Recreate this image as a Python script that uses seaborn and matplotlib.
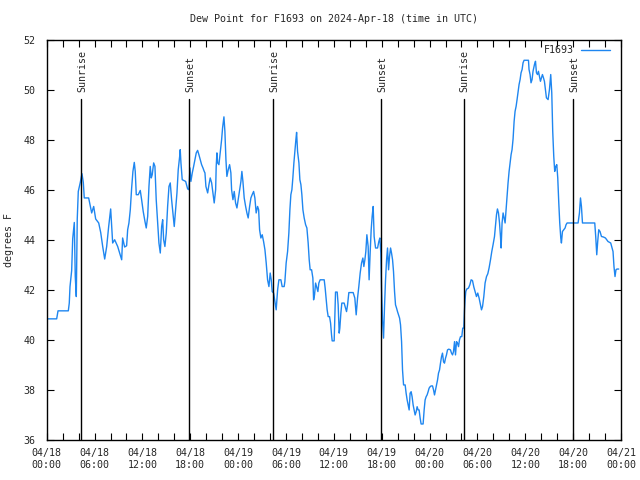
import matplotlib
matplotlib.use("Agg")
import matplotlib.pyplot as plt
import seaborn as sns
import pandas as pd

# hours since 2024-04-18 00:00 UTC
hours = [
    0.00, 1.25, 1.42, 2.71, 2.83, 2.92, 3.13, 3.26, 3.46, 3.58, 3.71, 3.83, 3.96, 4.21, 4.42, 4.59, 4.71, 5.26,
    5.51, 5.64, 5.89, 6.14, 6.52, 6.77, 7.02, 7.27, 7.52, 7.77, 8.02, 8.27, 8.52, 8.90, 9.15, 9.40, 9.52, 9.77, 10.02,
    10.15, 10.31, 10.48, 10.65, 10.81, 10.98, 11.10, 11.23, 11.48, 11.73, 11.90, 12.10, 12.32, 12.48, 12.66, 12.82,
    12.98, 13.11, 13.23, 13.41, 13.57, 13.73, 13.91, 14.07, 14.24, 14.41, 14.54, 14.66, 14.82, 14.99, 15.16, 15.33,
    15.49, 15.66, 15.83, 15.99, 16.16, 16.33, 16.49, 16.67, 16.74, 16.83, 16.99, 17.42, 17.67, 17.83, 17.96, 18.08,
    18.25, 18.42, 18.58, 18.75, 18.92, 19.08, 19.25, 19.42, 19.59, 19.75,
    19.84, 19.96, 20.18, 20.34, 20.50, 20.68, 20.84, 21.00, 21.18, 21.25, 21.34, 21.43, 21.59, 21.75, 21.93, 22.05,
    22.22, 22.34, 22.47, 22.59, 22.76, 22.93, 23.09, 23.18, 23.35, 23.51, 23.68, 23.85, 24.01, 24.18, 24.35, 24.47,
    24.60, 24.76, 24.94, 25.10, 25.26, 25.44, 25.60, 25.76, 25.94, 26.10, 26.26, 26.44, 26.57, 26.69, 26.85, 27.02,
    27.19, 27.36, 27.52, 27.69, 27.86, 28.02, 28.15, 28.27, 28.45, 28.61, 28.77, 28.95, 29.11, 29.36, 29.52, 29.77,
    29.86, 30.02, 30.20, 30.36, 30.49, 30.61, 30.74, 30.86, 30.99, 31.11, 31.24, 31.33, 31.45, 31.62, 31.74, 31.87,
    31.99, 32.12, 32.28, 32.46, 32.62, 32.78, 32.91, 33.03, 33.21, 33.37, 33.46, 33.58, 33.71, 33.83, 34.00, 34.12,
    34.28, 34.79, 34.91, 35.04, 35.16, 35.29, 35.46, 35.59, 35.71, 35.79, 36.04, 36.13, 36.21, 36.42, 36.54, 36.67,
    36.75, 36.88, 37.00, 37.29, 37.47, 37.59, 37.72, 37.88, 38.42, 38.63, 38.80, 38.97, 39.13, 39.30, 39.47, 39.64,
    39.76, 39.89, 40.01, 40.14, 40.30, 40.42, 40.55, 40.68, 40.80, 40.93, 41.05, 41.23, 41.48, 41.64, 41.77, 41.89,
    41.98, 42.10, 42.23, 42.36, 42.48, 42.61, 42.73, 42.86, 42.98, 43.11, 43.23, 43.36, 43.48, 43.61, 43.73, 43.86,
    43.98, 44.11, 44.24, 44.36, 44.49, 44.61, 44.74, 44.94, 45.06, 45.19, 45.31, 45.44, 45.56, 45.69, 45.81, 45.94,
    46.06, 46.19, 46.32, 46.44, 46.57, 46.69, 46.82, 46.94, 47.19, 47.32, 47.44, 47.57, 47.69, 47.82, 47.94, 48.07,
    48.20, 48.37, 48.50, 48.62, 48.75, 48.87, 49.00, 49.12, 49.25, 49.37, 49.50, 49.62, 49.75, 49.87, 50.00, 50.12,
    50.25, 50.41, 50.62, 50.75, 50.88, 51.00, 51.13, 51.25, 51.38, 51.50, 51.63, 51.75, 51.88, 52.04, 52.16, 52.29,
    52.38, 52.45, 52.54, 52.66,
    52.88, 53.05, 53.21, 53.38, 53.55, 53.71, 53.88, 54.04, 54.21, 54.38, 54.51, 54.64, 54.80, 54.96, 55.14, 55.30,
    55.46, 55.64, 55.80, 55.96, 56.14, 56.26, 56.39, 56.51, 56.64, 56.77, 56.89, 56.97, 57.09, 57.22, 57.34, 57.47,
    57.59, 57.72, 57.84, 57.97, 58.09, 58.22, 58.34, 58.47, 58.60, 58.72, 58.85, 58.97, 59.10, 59.22, 59.35, 59.47,
    59.60, 59.72, 59.85, 60.40, 60.47, 60.60, 60.72, 60.85, 60.97, 61.15, 61.28, 61.40, 61.53, 61.65, 61.78, 61.90,
    62.03, 62.15, 62.28, 62.40,
    62.65, 62.86, 63.03, 63.19, 63.32, 63.44, 63.57, 63.69, 63.82, 63.95, 64.07, 64.20, 64.32, 64.45, 64.53, 64.66,
    64.82, 64.99, 65.11, 65.24, 66.62, 66.79, 66.92, 67.04, 67.17, 68.71, 68.83, 68.96, 69.08, 69.21, 69.37, 69.55,
    69.80, 70.05, 70.21, 70.37, 70.71, 71.00, 71.12, 71.25, 71.37, 71.50, 71.71,
]

dewpoint = [
    40.84, 40.84, 41.16, 41.16, 41.47, 42.12, 42.77, 44.04, 44.69, 42.53, 41.73, 44.83, 45.93, 46.29, 46.64, 46.29, 45.67, 45.67,
    45.27, 45.07, 45.33, 44.83, 44.67, 44.29, 43.73, 43.23, 43.73, 44.53, 45.23, 43.87, 44.00, 43.73, 43.47, 43.20, 44.07, 43.71, 43.76,
    44.40, 44.67, 45.20, 46.07, 46.73, 47.09, 46.73, 45.80, 45.80, 45.97, 45.60, 45.13, 44.73, 44.47, 44.93, 46.13,
    46.93, 46.47, 46.60, 47.07, 46.93, 45.60, 44.67, 43.87, 43.47, 44.53, 44.80, 44.00, 43.73, 44.27, 45.33, 46.13,
    46.27, 45.60, 45.07, 44.53, 45.20, 45.87, 46.80, 47.33, 47.60, 47.07, 46.40, 46.33, 46.03, 46.00, 46.87, 46.33,
    46.67, 46.93, 47.20, 47.47, 47.57, 47.40, 47.20, 47.00, 46.87, 46.73,
    46.67, 46.13, 45.87, 46.20, 46.47, 46.27, 45.87, 45.47, 46.00, 46.93, 47.47, 47.07, 47.00, 47.47, 48.00, 48.47,
    48.91, 48.33, 47.20, 46.53, 46.80, 47.00, 46.67, 46.00, 45.60, 45.93, 45.47, 45.27, 45.60, 45.93, 46.33, 46.73,
    46.33, 45.67, 45.33, 45.07, 44.87, 45.33, 45.67, 45.80, 45.93, 45.67, 45.07, 45.33, 45.20, 44.40, 44.07, 44.20,
    43.93, 43.60, 43.07, 42.40, 42.13, 42.67, 42.40, 41.93, 41.87, 41.53, 41.20, 42.00, 42.40, 42.40, 42.13, 42.13,
    42.33, 43.07, 43.53, 44.27, 45.20, 45.80, 46.00, 46.47, 47.07, 47.53, 48.00, 48.29, 47.53, 47.07, 46.40, 46.20,
    45.80, 45.20, 44.87, 44.60, 44.47, 43.87, 43.20, 42.80, 42.80, 42.47, 41.60, 41.80, 42.27, 42.13, 41.93, 42.27,
    42.40, 42.40, 42.07, 41.60, 41.20, 40.93, 40.93, 40.67, 40.20, 39.96, 39.96, 40.93, 41.91, 41.91, 41.40, 40.27,
    40.47, 41.07, 41.47, 41.47, 41.27, 41.13, 41.40, 41.89, 41.89, 41.67, 41.00, 41.67, 42.13, 42.67, 43.07, 43.27,
    42.93, 43.20, 43.53, 44.20, 43.73, 42.40, 43.47, 44.40, 44.93, 45.33, 44.13, 43.67, 43.67, 43.93, 44.07, 43.47,
    42.07, 40.80, 40.07, 41.40, 42.40, 43.20, 43.67, 42.80, 43.33, 43.67, 43.47, 43.20, 42.73, 41.93, 41.40, 41.27,
    41.13, 41.00, 40.87, 40.60, 39.93, 38.80, 38.20, 38.20, 37.87, 37.60, 37.40, 37.20, 37.87, 37.93, 37.73, 37.40,
    37.20, 37.00, 37.13, 37.33, 37.20, 37.20, 36.87, 36.64, 36.64, 37.20, 37.60, 37.73, 37.80, 37.93, 38.07, 38.13,
    38.16, 38.16, 38.00, 37.80, 38.00, 38.20, 38.40, 38.67, 38.80, 39.07, 39.33, 39.47, 39.13, 39.07, 39.27, 39.40,
    39.60, 39.63, 39.60, 39.47, 39.40, 39.53, 39.93, 39.40, 39.93, 39.87, 39.73, 40.00, 40.13, 40.13, 40.47, 40.47,
    41.20, 41.60, 41.93, 42.03,
    42.07, 42.20, 42.40, 42.37, 42.11, 41.93, 41.73, 41.87, 41.67, 41.40, 41.20, 41.33, 41.73, 42.27, 42.53, 42.64,
    42.87, 43.20, 43.53, 43.80, 44.13, 44.53, 45.00, 45.23, 45.07, 44.67, 44.13, 43.67, 44.67, 45.07, 44.87, 44.67,
    45.20, 45.73, 46.27, 46.73, 47.07, 47.40, 47.60, 48.03, 48.73, 49.13, 49.33, 49.60, 49.93, 50.20, 50.40, 50.67,
    50.80, 51.07, 51.17, 51.17, 50.80, 50.60, 50.27, 50.40, 50.73, 51.00, 51.13, 50.67, 50.60, 50.73, 50.53, 50.33,
    50.47, 50.60, 50.47, 50.33,
    49.67, 49.60, 50.00, 50.60, 49.87, 48.33, 47.33, 46.73, 46.93, 47.00, 46.47, 45.47, 44.67, 44.07, 43.87, 44.33,
    44.40, 44.47, 44.60, 44.67, 44.67, 45.07, 45.67, 45.33, 44.67, 44.67, 44.13, 43.40, 43.93, 44.40, 44.33, 44.13,
    44.11, 44.07, 44.00, 43.93, 43.87, 43.53, 42.93, 42.53, 42.80, 42.83, 42.83,
]

# sunrise / sunset times (hours since 2024-04-18 00:00 UTC)
sun_hours = [4.34, 17.87, 28.40, 41.93, 52.29, 65.99]
sun_labels = ["Sunrise", "Sunset", "Sunrise", "Sunset", "Sunrise", "Sunset"]

xtick_hours = [0, 6, 12, 18, 24, 30, 36, 42, 48, 54, 60, 66, 72]
xtick_labels = ["04/18\n00:00", "04/18\n06:00", "04/18\n12:00", "04/18\n18:00",
                "04/19\n00:00", "04/19\n06:00", "04/19\n12:00", "04/19\n18:00",
                "04/20\n00:00", "04/20\n06:00", "04/20\n12:00", "04/20\n18:00",
                "04/21\n00:00"]
ytick_values = [36, 38, 40, 42, 44, 46, 48, 50, 52]

sns.set_theme(style="white")
FONT = "DejaVu Sans Mono"
plt.rcParams["font.family"] = [FONT, "DejaVu Sans"]
FS = 7.2

df = pd.DataFrame({"hours": hours, "dewpoint": dewpoint})

fig = plt.figure(figsize=(6.4, 4.8), dpi=100)
ax = fig.add_axes([46.7 / 640, 1 - 440 / 480, (621 - 46.7) / 640, (440 - 39.5) / 480])

sns.lineplot(data=df, x="hours", y="dewpoint", ax=ax, color="#1E86F0", lw=1.0,
             estimator=None, sort=False, label="F1693")

for t, lab in zip(sun_hours, sun_labels):
    ax.plot([t, t], [36, 49.62], color="black", lw=1.0, zorder=3)
    ax.text(t + 0.12, 49.90, lab, rotation=90, ha="center", va="bottom",
            fontsize=FS, family=FONT)

ax.set_xlim(0, 72)
ax.set_ylim(36, 52)
ax.set_xticks(xtick_hours)
ax.set_xticklabels(xtick_labels, fontsize=FS, family=FONT, linespacing=1.25)
ax.set_xticks(range(0, 73, 2), minor=True)
ax.set_yticks(ytick_values)
ax.set_yticklabels([str(v) for v in ytick_values], fontsize=FS, family=FONT)
ax.tick_params(axis="both", which="both", direction="in", length=5, width=0.8,
               top=True, right=True, bottom=True, left=True, color="black")
ax.tick_params(axis="x", which="major", pad=6)
ax.tick_params(axis="y", which="major", pad=8)
ax.set_xlabel("")
ax.set_ylabel("degrees F", fontsize=FS, family=FONT)
ax.yaxis.set_label_coords((14 - 46.7) / 574.3, 0.5)
for s in ax.spines.values():
    s.set_color("black")
    s.set_linewidth(1.0)
    s.set_visible(True)

fig.text(334 / 640, 1 - 19 / 480, "Dew Point for F1693 on 2024-Apr-18 (time in UTC)",
         ha="center", va="center", fontsize=FS, family=FONT)

leg = ax.legend(loc="upper right", frameon=False, markerfirst=False,
                prop={"family": FONT, "size": FS}, handlelength=2.9,
                bbox_to_anchor=((614 - 46.7) / 574.3, 1.0 - 1.5 / 400.5),
                borderaxespad=0.0, handletextpad=0.7)

fig.savefig("out.png", dpi=100, facecolor="white")
